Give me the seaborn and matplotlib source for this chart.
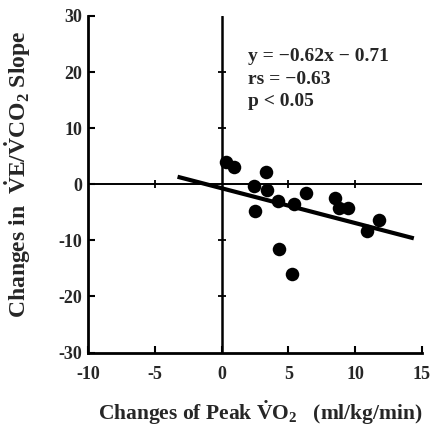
"""Peak VO2 change vs VE/VCO2 slope change, with regression line."""

import matplotlib

matplotlib.use("Agg")
import matplotlib.pyplot as plt
import numpy as np
import pandas as pd
import seaborn as sns

# data
peak_vo2_change = [0.3, 0.9, 3.3, 2.4, 3.4, 2.5, 4.2, 5.4, 6.3, 8.5, 8.8, 9.5,
                   10.9, 11.8, 4.3, 5.3]
slope_change = [4.0, 3.0, 2.1, -0.4, -1.0, -4.8, -3.0, -3.6, -1.5, -2.4, -4.3,
                -4.2, -8.4, -6.3, -11.5, -16.0]
fit_slope, fit_intercept = -0.62, -0.71
fit_x_range = [-3.3, 14.4]
x_ticks = [-10, -5, 0, 5, 10, 15]
y_ticks = [-30, -20, -10, 0, 10, 20, 30]
stats_lines = ["y = \u22120.62x \u2212 0.71", "rs = \u22120.63", "p < 0.05"]

sns.set_theme(style="white")
plt.rcParams["font.family"] = ["Liberation Serif", "DejaVu Serif"]
plt.rcParams["font.weight"] = "bold"
plt.rcParams["axes.unicode_minus"] = False
plt.rcParams["mathtext.fontset"] = "custom"
plt.rcParams["mathtext.rm"] = "Liberation Serif:bold"
plt.rcParams["mathtext.bf"] = "Liberation Serif:bold"
plt.rcParams["mathtext.it"] = "Liberation Serif:bold"

df = pd.DataFrame({"x": peak_vo2_change, "y": slope_change})

fig = plt.figure(figsize=(4.34, 4.30), dpi=100)
ax = fig.add_axes([0.203, 0.180, 0.769, 0.783])

sns.scatterplot(data=df, x="x", y="y", ax=ax, s=95, color="black",
                edgecolor="black", linewidth=0, zorder=4)

fx = np.array(fit_x_range)
ax.plot(fx, fit_slope * fx + fit_intercept, color="black", lw=3.0,
        solid_capstyle="butt", zorder=3)

# cross-hair axes at zero with their own small ticks
ax.axvline(0, color="black", lw=1.8, zorder=2)
ax.axhline(0, color="black", lw=1.4, zorder=2)
inner_y = [t for t in y_ticks if t not in (0, -30, 30)]
inner_x = [t for t in x_ticks if t not in (0, -10, 15)]
ax.plot([0] * len(inner_y), inner_y, ls="none", marker="_", ms=6,
        mew=1.3, color="black", zorder=2)
ax.plot(inner_x, [0] * len(inner_x), ls="none", marker="|", ms=6,
        mew=1.3, color="black", zorder=2)

ax.set_xlim(x_ticks[0], x_ticks[-1])
ax.set_ylim(y_ticks[0], y_ticks[-1])
ax.set_xticks(x_ticks)
ax.set_yticks(y_ticks)
ax.set_xticklabels([str(t) for t in x_ticks], fontsize=13, fontweight="bold")
ax.set_yticklabels([str(t) for t in y_ticks], fontsize=13, fontweight="bold")
ax.tick_params(direction="in", length=5, width=1.5, color="black",
               bottom=True, left=True)
ax.tick_params(axis="x", pad=10)
ax.tick_params(axis="y", pad=4)

sns.despine(ax=ax)
for side in ("left", "bottom"):
    ax.spines[side].set_linewidth(2.0)
    ax.spines[side].set_color("black")

ax.set_xlabel(r"Changes of Peak $\dot{V}$O$_2$   (ml/kg/min)", fontsize=15.5,
              fontweight="bold")
ax.set_ylabel(r"Changes in  $\dot{V}$E/$\dot{V}$CO$_2$ Slope", fontsize=17,
              fontweight="bold")
ax.xaxis.set_label_coords(0.515, -0.137)
ax.yaxis.set_label_coords(-0.165, 0.53)

for i, line in enumerate(stats_lines):
    ax.text(2.0, 22.7 - i * 3.95, line, fontsize=14, fontweight="bold",
            va="center", ha="left")

fig.savefig("out.png", dpi=100)
